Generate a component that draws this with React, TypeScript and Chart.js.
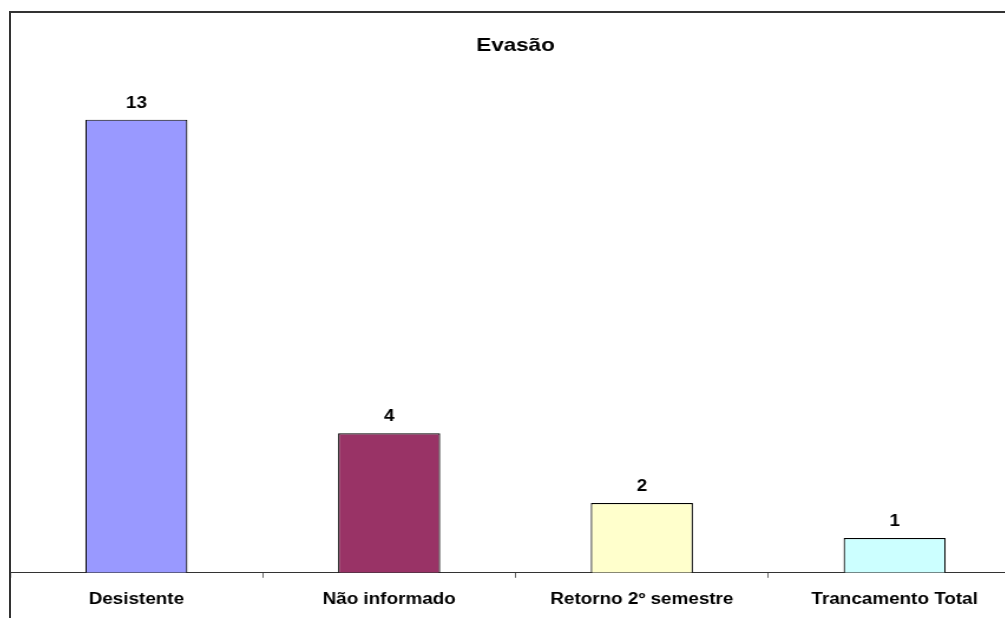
import React, { useEffect, useRef } from "react";
import { Chart, registerables } from "chart.js";

Chart.register(...registerables);

const categories = ["Desistente", "Não informado", "Retorno 2º semestre", "Trancamento Total"];
const values = [13, 4, 2, 1];
const barColors = ["#9999FF", "#993366", "#FFFFCC", "#CCFFFF"];
const chartTitle = "Evasão";
const yMax = 14;

const STRETCH = 1.18;
const CSS_W = 1011;
const INNER_W = Math.round(CSS_W / STRETCH);
const H = 608;

const valueLabels = {
  id: "valueLabels",
  afterDatasetsDraw(chart: any) {
    const ctx = chart.ctx;
    const meta = chart.getDatasetMeta(0);
    ctx.save();
    ctx.font = "bold 16px 'Liberation Sans', Arial, sans-serif";
    ctx.fillStyle = "#000";
    ctx.textAlign = "center";
    ctx.textBaseline = "alphabetic";
    meta.data.forEach((bar: any, i: number) => {
      ctx.fillText(String(values[i]), bar.x, bar.y - 12);
    });
    ctx.restore();
  },
};

export default function App() {
  const ref = useRef<HTMLCanvasElement>(null);
  useEffect(() => {
    if (!ref.current) return;
    const chart = new Chart(ref.current, {
      type: "bar",
      data: {
        labels: categories,
        datasets: [
          {
            data: values,
            backgroundColor: barColors,
            borderColor: "#000",
            borderWidth: 1.2,
            categoryPercentage: 1,
            barPercentage: 0.404,
          },
        ],
      },
      options: {
        responsive: false,
        maintainAspectRatio: false,
        animation: false,
        layout: { padding: 0 },
        plugins: {
          legend: { display: false },
          tooltip: { enabled: false },
          title: {
            display: true,
            text: chartTitle,
            color: "#000",
            font: { family: "'Liberation Sans', Arial, sans-serif", size: 19, weight: "bold" },
            padding: { top: 21, bottom: 28 },
          },
        },
        scales: {
          x: {
            grid: {
              display: true,
              drawOnChartArea: false,
              drawTicks: true,
              tickLength: 5,
              color: "#666",
              offset: true,
            },
            border: { display: true, color: "#333", width: 1 },
            ticks: {
              color: "#000",
              padding: 12,
              maxRotation: 0,
              autoSkip: false,
              font: { family: "'Liberation Sans', Arial, sans-serif", size: 16, weight: "bold" },
            },
          },
          y: {
            display: false,
            min: 0,
            max: yMax,
          },
        },
      },
      plugins: [valueLabels],
    });
    return () => chart.destroy();
  }, []);

  return (
    <div
      style={{
        position: "fixed",
        left: 0,
        top: 0,
        width: 1005,
        height: 618,
        overflow: "hidden",
        background: "#fff",
      }}
    >
      <canvas
        ref={ref}
        width={INNER_W}
        height={H}
        style={{ position: "absolute", left: 10, top: 13, width: CSS_W + "px", height: H + "px" }}
      />
      <div
        style={{
          position: "absolute",
          left: 9,
          top: 11,
          width: 1100,
          height: 700,
          borderLeft: "2px solid #333",
          borderTop: "2px solid #333",
          pointerEvents: "none",
        }}
      />
    </div>
  );
}
